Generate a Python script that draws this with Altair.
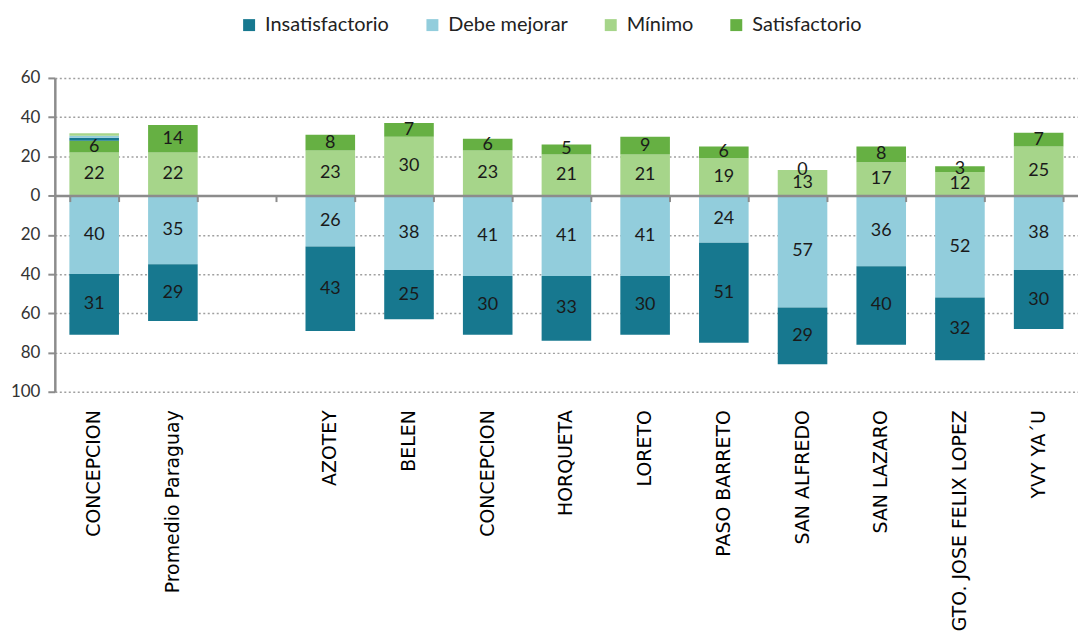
import json
import altair as alt
import pandas as pd

categories = ["CONCEPCION", "Promedio Paraguay", "", "AZOTEY", "BELEN", "CONCEPCION",
              "HORQUETA", "LORETO", "PASO BARRETO", "SAN ALFREDO", "SAN LAZARO",
              "SGTO. JOSE FELIX LOPEZ", "YVY YA´U"]
insatisfactorio = [31, 29, None, 43, 25, 30, 33, 30, 51, 29, 40, 32, 30]
debe_mejorar = [40, 35, None, 26, 38, 41, 41, 41, 24, 57, 36, 52, 38]
minimo = [22, 22, None, 23, 30, 23, 21, 21, 19, 13, 17, 12, 25]
satisfactorio = [6, 14, None, 8, 7, 6, 5, 9, 6, 0, 8, 3, 7]
# small stray segments drawn on top of the first bar in the original
extra_series = ["Insatisfactorio", "Debe mejorar", "Mínimo"]
extra_values = [1.5, 1.0, 1.3]

series = ["Insatisfactorio", "Debe mejorar", "Mínimo", "Satisfactorio"]
colors = ["#17788f", "#92cddc", "#a6d58a", "#66b043"]

rows = []
for i in range(len(categories)):
    if insatisfactorio[i] is None:
        continue
    rows.append(dict(idx=i, serie="Debe mejorar", value=-debe_mejorar[i], order=1, label=str(debe_mejorar[i]), show=1))
    rows.append(dict(idx=i, serie="Insatisfactorio", value=-insatisfactorio[i], order=2, label=str(insatisfactorio[i]), show=1))
    rows.append(dict(idx=i, serie="Mínimo", value=minimo[i], order=1, label=str(minimo[i]), show=1))
    rows.append(dict(idx=i, serie="Satisfactorio", value=satisfactorio[i], order=2, label=str(satisfactorio[i]), show=1))
for k, (s, v) in enumerate(zip(extra_series, extra_values)):
    rows.append(dict(idx=0, serie=s, value=v, order=3 + k, label="", show=0))
df = pd.DataFrame(rows)

W, H = 1027, 315
ydom = [-100, 60]
zero_offset = -H * (0 - ydom[0]) / (ydom[1] - ydom[0])
label_expr = json.dumps(categories, ensure_ascii=False) + "[datum.value]"
yscale = alt.Scale(domain=ydom, nice=False, zero=False)
xscale = alt.Scale(domain=list(range(len(categories))), paddingInner=0.37, paddingOuter=0.185)

yaxis = alt.Axis(orient="left", values=list(range(-100, 61, 20)), labelExpr="abs(datum.value)",
                 labelFont="Lato", labelFontSize=17, labelColor="#333333",
                 labelPadding=8, tickSize=7, tickColor="#8c8c8c", tickWidth=2,
                 domainColor="#8c8c8c", domainWidth=2.5,
                 grid=True, gridDash=[2, 2.5], gridColor="#a0a0a0", gridWidth=1.5)

base = alt.Chart(df).transform_stack(
    stack="value", as_=["v0", "v1"], groupby=["idx"],
    sort=[alt.SortField("order", order="ascending")], offset="zero"
).transform_calculate(mid="(datum.v0 + datum.v1) / 2")

bars = base.mark_bar().encode(
    x=alt.X("idx:O", scale=xscale, title=None,
            axis=alt.Axis(orient="bottom", labelAngle=-90, labelExpr=label_expr,
                          labelFont="DejaVu Sans", labelFontSize=19, labelColor="#000000",
                          labelPadding=18, labelLimit=600, labelOverlap=False,
                          domain=False, ticks=False, grid=False)),
    y=alt.Y("v0:Q", scale=yscale, title=None, axis=yaxis),
    y2="v1:Q",
    color=alt.Color("serie:N", scale=alt.Scale(domain=series, range=colors),
                    legend=alt.Legend(title=None, orient="none", direction="horizontal",
                                      legendX=185, legendY=-63, symbolType="square",
                                      symbolSize=144, symbolStrokeWidth=0,
                                      labelFont="Lato", labelFontSize=20, labelColor="#222222",
                                      labelOffset=6, columnPadding=33)),
    order=alt.Order("order:Q"),
)

labels = base.transform_filter("datum.show == 1").mark_text(
    font="Lato", fontSize=18, color="#1a1a1a", baseline="middle"
).encode(
    x=alt.X("idx:O", scale=xscale, title=None,
            axis=alt.Axis(orient="bottom", offset=zero_offset, labels=False, domain=True,
                          domainColor="#8c8c8c", domainWidth=2.5, ticks=True, tickBand="extent",
                          tickSize=6, tickColor="#8c8c8c", tickWidth=2, grid=False, zindex=1)),
    y=alt.Y("mid:Q", scale=yscale, title=None, axis=yaxis),
    text="label:N",
)

chart = alt.layer(bars, labels).resolve_axis(x="independent").properties(
    width=W, height=H,
    autosize=alt.AutoSizeParams(type="none"),
    padding={"left": 47, "top": 69, "right": 0, "bottom": 240},
    background="white",
).configure_view(stroke=None)

chart.save("out.html", embed_options={"renderer": "svg", "actions": False})
